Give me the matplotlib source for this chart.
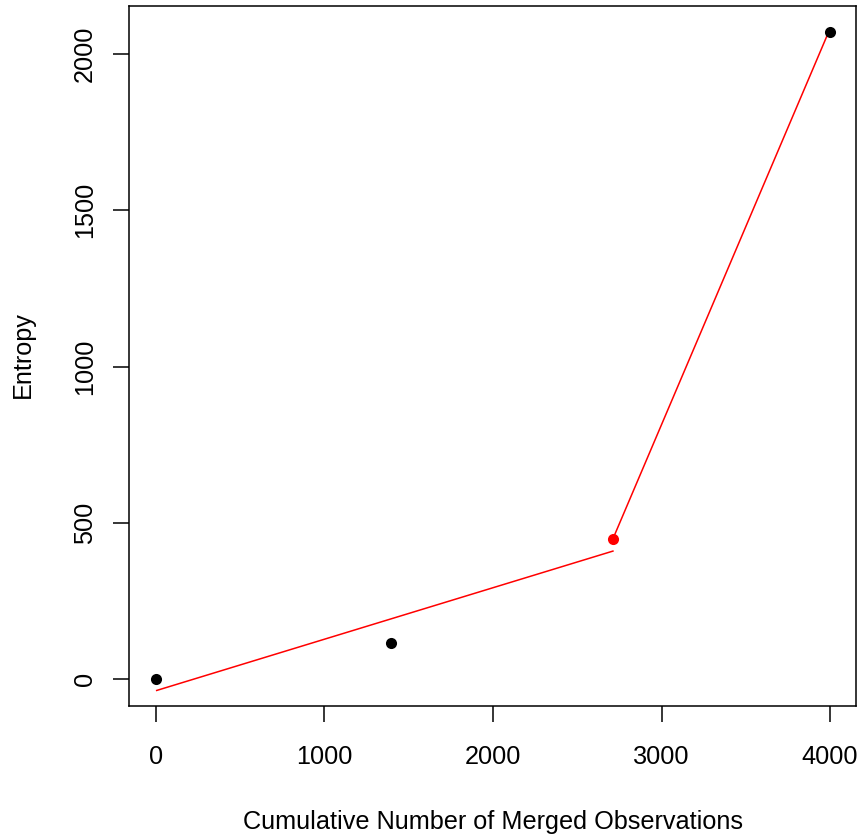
import matplotlib
matplotlib.use("Agg")
import matplotlib.pyplot as plt

plt.rcParams['font.family'] = ['Liberation Sans', 'DejaVu Sans']

# data
obs_x = [0, 1393, 4000]
obs_y = [0, 117, 2071]
red_x = [2711]
red_y = [449]
seg1_x = [0, 2716]
seg1_y = [-36, 411]
seg2_x = [2716, 3990]
seg2_y = [455, 2068]
xticks = [0, 1000, 2000, 3000, 4000]
yticks = [0, 500, 1000, 1500, 2000]

W, H = 859, 839
fig = plt.figure(figsize=(W/100, H/100), dpi=100)
ax = fig.add_axes([129/W, 1-706/H, (856-129)/W, 700/H])

ax.plot(seg1_x, seg1_y, color='red', lw=1.1, solid_capstyle='butt')
ax.plot(seg2_x, seg2_y, color='red', lw=1.1, solid_capstyle='butt')
ax.plot(obs_x, obs_y, 'o', color='black', ms=8, mew=0)
ax.plot(red_x, red_y, 'o', color='red', ms=8, mew=0)

ax.set_xlim(-160, 4154)
ax.set_ylim(-85, 2153)
ax.set_xticks(xticks)
ax.set_yticks(yticks)
ax.set_xticklabels([str(t) for t in xticks], fontsize=18.2)
ax.set_yticklabels([str(t) for t in yticks], fontsize=18.2, rotation=90, va='center')
ax.tick_params(length=11.5, width=1.1)
ax.tick_params(axis='x', pad=16.5)
ax.tick_params(axis='y', pad=11.5)
for s in ax.spines.values():
    s.set_linewidth(1.1)

fig.text(493/W, 1-822/H, 'Cumulative Number of Merged Observations', ha='center', va='center', fontsize=18.2)
fig.text(23/W, 1-355/H, 'Entropy', ha='center', va='center', rotation=90, fontsize=18.2)

fig.savefig('out.png', dpi=100)
